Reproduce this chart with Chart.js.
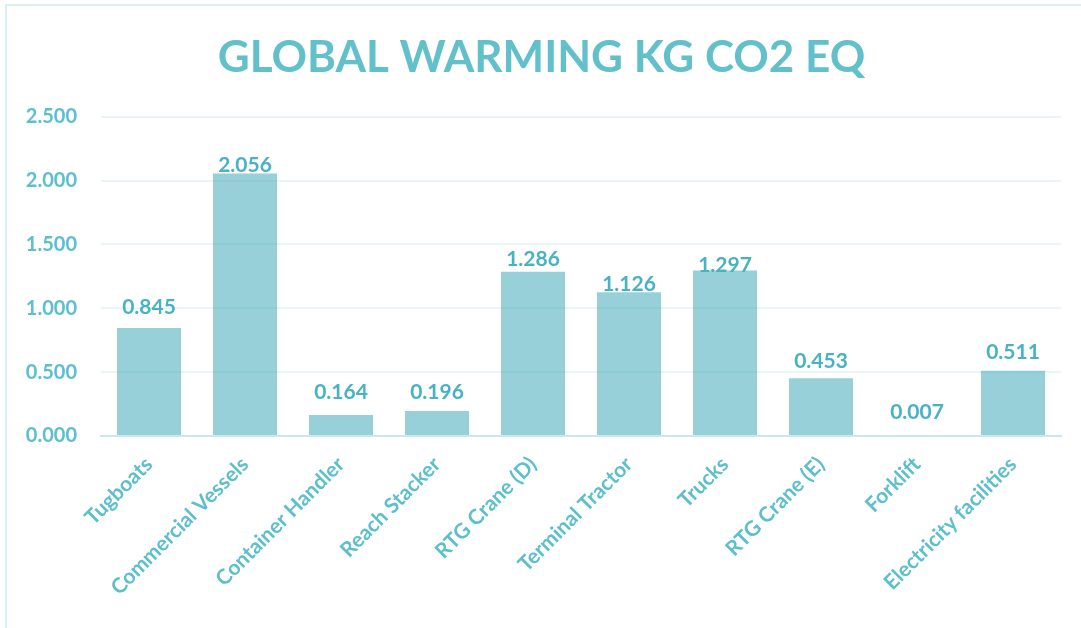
<!DOCTYPE html>
<html>
<head>
<meta charset="utf-8">
<script src="https://cdn.jsdelivr.net/npm/chart.js@4.4.1/dist/chart.umd.min.js"></script>
<style>
  html, body { margin: 0; padding: 0; background: #fff; overflow: hidden; }
  .frame {
    position: absolute; left: 5px; top: 4px;
    width: 1120px; height: 700px;
    border: 2px solid #daf0f4;
  }
  .wrap { position: absolute; left: 0; top: 0; width: 1081px; height: 628px; }
</style>
</head>
<body>
<div class="frame"></div>
<div class="wrap"><canvas id="grafico" width="1081" height="628"></canvas></div>
<script>
// -------------------- DADOS --------------------
const categorias = [
  'Tugboats', 'Commercial Vessels', 'Container Handler', 'Reach Stacker',
  'RTG Crane (D)', 'Terminal Tractor', 'Trucks', 'RTG Crane (E)',
  'Forklift', 'Electricity facilities'
];
const valores = [0.845, 2.056, 0.164, 0.196, 1.286, 1.126, 1.297, 0.453, 0.007, 0.511];
const ticksY = [0, 0.5, 1, 1.5, 2, 2.5];

// distancia de cada rotulo ate o topo da barra (px)
const folgaRotulo = [14, 1.5, 16, 12, 6, 1.5, -1.5, 10, 16, 12];

const COR_TEXTO = '#5bbfcc';
const COR_ROTULO = '#47b3c2';
const FONTE = 'Lato, "Open Sans", sans-serif';

// -------------------- ROTULOS DAS BARRAS --------------------
const rotulosBarras = {
  id: 'rotulosBarras',
  afterDatasetsDraw(chart) {
    const { ctx } = chart;
    const meta = chart.getDatasetMeta(0);
    ctx.save();
    ctx.font = `bold 21px ${FONTE}`;
    ctx.fillStyle = COR_ROTULO;
    ctx.textAlign = 'center';
    ctx.textBaseline = 'alphabetic';
    meta.data.forEach((bar, i) => {
      const v = chart.data.datasets[0].data[i];
      ctx.fillText(v.toFixed(3), bar.x, bar.y - folgaRotulo[i]);
    });
    ctx.restore();
  }
};

// -------------------- GRAFICO --------------------
const ctx = document.getElementById('grafico').getContext('2d');
new Chart(ctx, {
  type: 'bar',
  data: {
    labels: categorias,
    datasets: [{
      data: valores,
      backgroundColor: 'rgba(58, 166, 182, 0.53)',
      borderWidth: 0,
      categoryPercentage: 1,
      barPercentage: 0.667
    }]
  },
  options: {
    responsive: false,
    animation: false,
    events: [],
    layout: { padding: { left: 22, right: 20, top: 0, bottom: 0 } },
    plugins: {
      legend: { display: false },
      tooltip: { enabled: false },
      title: {
        display: true,
        text: 'GLOBAL WARMING KG CO2 EQ',
        color: '#62c0cb',
        font: { family: FONTE, size: 44, weight: 'bold', lineHeight: 1.2 },
        padding: { top: 31, bottom: 33 }
      }
    },
    scales: {
      y: {
        min: 0,
        max: 2.5,
        afterBuildTicks: (scale) => { scale.ticks = ticksY.map(v => ({ value: v })); },
        afterFit: (scale) => { scale.width = 79; },
        ticks: {
          color: COR_TEXTO,
          padding: 24,
          font: { family: FONTE, size: 20, weight: 'bold' },
          callback: (v) => Number(v).toFixed(3)
        },
        grid: { color: '#e9f5f7', lineWidth: 2, drawTicks: false },
        border: { display: false }
      },
      x: {
        afterFit: (scale) => { scale.height = 192; },
        ticks: {
          color: COR_TEXTO,
          minRotation: 45,
          maxRotation: 45,
          padding: 8,
          font: { family: FONTE, size: 21, weight: 'bold' }
        },
        grid: { display: false },
        border: { color: '#c9e8ee', width: 2 }
      }
    }
  },
  plugins: [rotulosBarras]
});
</script>
</body>
</html>
